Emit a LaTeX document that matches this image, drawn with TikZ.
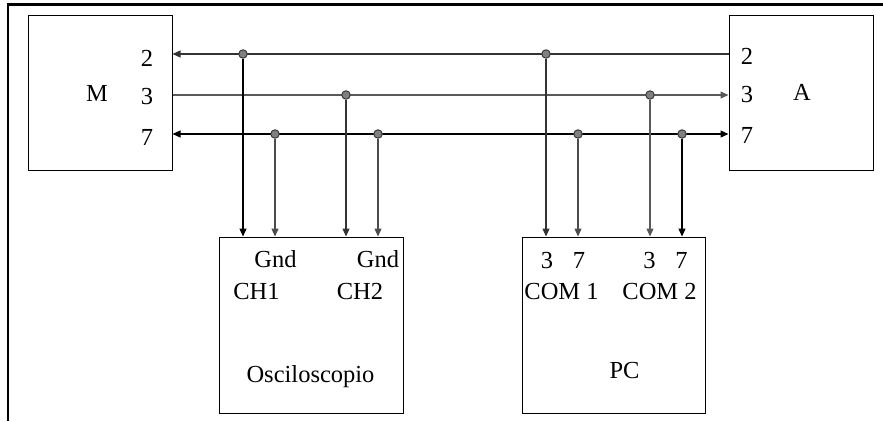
\documentclass[tikz,border=0pt]{standalone}
\usepackage{fontspec}
\setmainfont{Liberation Serif}
\usetikzlibrary{arrows.meta}
\usetikzlibrary{backgrounds}

\begin{document}
\begin{tikzpicture}[x=1pt,y=-1pt,
        every node/.style={font=\fontsize{24.5}{29}\selectfont},
        box/.style={draw, line width=1pt, inner sep=0pt},
        lbl/.style={anchor=base, inner sep=0pt},
        dot/.style={draw=black!80, circle, fill=gray, line width=0.9pt, minimum size=8.5pt, inner sep=0pt},
        wire/.style={line width=1.2pt, black!80},
        tip/.style={-{Triangle[length=8pt,width=7pt]}},
        both/.style={{Triangle[length=8pt,width=7pt]}-{Triangle[length=8pt,width=7pt]}}]
        \useasboundingbox (0,0) rectangle (883,421);
        \draw[line width=2.5pt] (8,421) -- (8,4.5) -- (883,4.5);

        \node[box, minimum width=144pt, minimum height=155pt] (mbox) at (100,92.5) {};
        \node[box, minimum width=144pt, minimum height=155pt] (abox) at (801,92.5) {};
        \node[box, minimum width=184pt, minimum height=176pt] (osc) at (311,325) {};
        \node[box, minimum width=183pt, minimum height=176pt] (pc) at (613.5,325) {};

        \node[lbl] (m2) at (147,66) {2};
        \node[lbl] (m3) at (147,104) {3};
        \node[lbl] (m7) at (147,145) {7};
        \node[lbl] (mname) at (97,101) {M};
        \node[lbl] (a2) at (747,64) {2};
        \node[lbl] (a3) at (747,102) {3};
        \node[lbl] (a7) at (747,143) {7};
        \node[lbl] (aname) at (802,100) {A};

        \node[lbl] (gnd1) at (275.5,267) {Gnd};
        \node[lbl] (gnd2) at (378,267) {Gnd};
        \node[lbl] (ch1) at (256.5,299) {CH1};
        \node[lbl] (ch2) at (360,299) {CH2};
        \node[lbl] (oscname) at (310.5,382) {Osciloscopio};
        \node[lbl] (c1a) at (547,268) {3};
        \node[lbl] (c1b) at (579,268) {7};
        \node[lbl] (c2a) at (649.5,268) {3};
        \node[lbl] (c2b) at (681.5,268) {7};
        \node[lbl] (com1) at (561.5,299) {COM 1};
        \node[lbl] (com2) at (659.5,299) {COM 2};
        \node[lbl] (pcname) at (624.5,378) {PC};

        \node[dot] (dot1) at (243,54) {};
        \node[dot] (dot2) at (546,54) {};
        \node[dot] (dot3) at (346,95) {};
        \node[dot] (dot4) at (650,95) {};
        \node[dot] (dot5) at (275,134) {};
        \node[dot] (dot6) at (378,134) {};
        \node[dot] (dot7) at (578,134) {};
        \node[dot] (dot8) at (682,134) {};

        \coordinate (pm2) at (mbox.east |- dot1);
        \coordinate (pm3) at (mbox.east |- dot3);
        \coordinate (pm7) at (mbox.east |- dot5);
        \coordinate (pa2) at (abox.west |- dot1);
        \coordinate (pa3) at (abox.west |- dot3);
        \coordinate (pa7) at (abox.west |- dot5);

        \begin{scope}[on background layer]
            \draw[wire, tip, black!80] (pa2) -- (pm2);
            \draw[wire, tip, black!65] (pm3) -- (pa3);
            \draw[wire, both, black] (pm7) -- (pa7);
        \end{scope}

        \draw[wire, tip, black] (dot1) -- (dot1 |- osc.north);
        \draw[wire, tip, black!70] (dot5) -- (dot5 |- osc.north);
        \draw[wire, tip, black!80] (dot3) -- (dot3 |- osc.north);
        \draw[wire, tip, black!70] (dot6) -- (dot6 |- osc.north);
        \draw[wire, tip, black!80] (dot2) -- (dot2 |- pc.north);
        \draw[wire, tip, black!70] (dot7) -- (dot7 |- pc.north);
        \draw[wire, tip, black!65] (dot4) -- (dot4 |- pc.north);
        \draw[wire, tip, black] (dot8) -- (dot8 |- pc.north);
    \end{tikzpicture}
\end{document}
